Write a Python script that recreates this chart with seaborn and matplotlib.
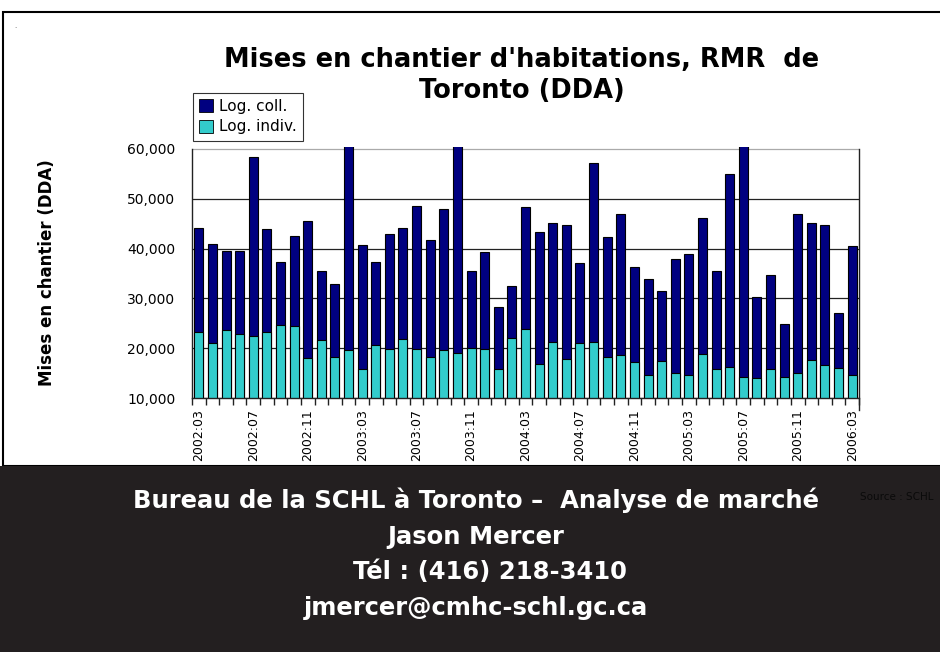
import matplotlib.pyplot as plt
from matplotlib.patches import Rectangle
import seaborn as sns
import pandas as pd

# monthly data, 2002:03 -> 2006:03
years_months = [(2002 + (m + 2) // 12, (m + 2) % 12 + 1) for m in range(49)]
months = ["%d:%02d" % ym for ym in years_months]

log_indiv = [23300, 21100, 23700, 22900, 22500, 23200, 24700, 24500, 18000, 21700,
             18300, 19600, 15800, 20700, 19800, 21900, 19800, 18300, 19600, 19100,
             20000, 19800, 15900, 22100, 23800, 16900, 21200, 17900, 21000, 21200,
             18300, 18600, 17300, 14700, 17500, 15000, 14700, 18900, 15800, 16300,
             14300, 14000, 15800, 14200, 15000, 17700, 16600, 16100, 14700]
log_coll = [20800, 19800, 15800, 16600, 35800, 20700, 12600, 18100, 27500, 13900,
            14500, 42400, 24900, 16600, 23100, 22200, 28800, 23500, 28400, 42900,
            15600, 19500, 12400, 10300, 24600, 26400, 23900, 26900, 16100, 35900,
            24000, 28300, 19100, 19100, 14000, 22900, 24300, 27300, 19700, 38700,
            47700, 16300, 18800, 10700, 31900, 27400, 28100, 11000, 25900]
yticks = [10000, 20000, 30000, 40000, 50000, 60000]

df = pd.DataFrame({"mois": months, "indiv": log_indiv, "coll": log_coll})
df["total"] = df["indiv"] + df["coll"]

navy = "#000080"
turq = "#33cccc"
band = "#231f20"

sns.set_theme(style="white")
plt.rcParams["font.family"] = ["DejaVu Sans"]
plt.rcParams.update({"text.color": "black", "axes.labelcolor": "black",
                     "xtick.color": "black", "ytick.color": "black"})

fig = plt.figure(figsize=(9.4, 6.52), dpi=100)
ax = fig.add_axes([192 / 940, 1 - 398 / 652, 667 / 940, (398 - 146.5) / 652])

sns.barplot(data=df, x="mois", y="total", color=navy, width=0.66,
            edgecolor="black", linewidth=0.8, saturation=1, ax=ax)
sns.barplot(data=df, x="mois", y="indiv", color=turq, width=0.66,
            edgecolor="black", linewidth=0.8, saturation=1, ax=ax)

ax.set_ylim(10000, 60500)
ax.set_xlim(-0.5, len(months) - 0.5)
ax.set_yticks(yticks)
ax.set_yticklabels(["{:,}".format(v) for v in yticks], fontsize=10)
for v in yticks:
    ax.axhline(v, color="#aaaaaa" if v == 60000 else "#222222", lw=0.9, zorder=0)

ax.set_xticks(range(0, len(months), 4))
ax.set_xticklabels(months[::4], rotation=90, fontsize=9)
ax.set_xticks([i - 0.5 for i in range(len(months) + 1)], minor=True)
ax.tick_params(axis="x", which="major", length=0, pad=8)
ax.tick_params(axis="x", which="minor", length=5, width=1, color="#222222", bottom=True)
ax.tick_params(axis="y", length=0, pad=12)
ax.set_xlabel("")
ax.set_ylabel("Mises en chantier (DDA)", fontsize=12, fontweight="bold", labelpad=51)

ax.spines["top"].set_visible(False)
for s in ["left", "right", "bottom"]:
    ax.spines[s].set_color("#222222")
    ax.spines[s].set_linewidth(1)
ax.spines["left"].set_bounds(10000, 60000)
ax.spines["right"].set_bounds(7500, 60000)

handles = [Rectangle((0, 0), 1, 1, facecolor=navy, edgecolor="black", lw=0.6),
           Rectangle((0, 0), 1, 1, facecolor=turq, edgecolor="black", lw=0.6)]
leg = fig.legend(handles, ["Log. coll.", "Log. indiv."], loc="upper left",
                 bbox_to_anchor=(193 / 940, 1 - 93 / 652), fontsize=11,
                 frameon=True, fancybox=False, edgecolor="black",
                 handlelength=0.9, handleheight=0.9, handletextpad=0.4,
                 borderpad=0.4, labelspacing=0.35, borderaxespad=0)
leg.get_frame().set_linewidth(0.8)

fig.text(522 / 940, 1 - 60 / 652, "Mises en chantier d'habitations, RMR  de",
         ha="center", va="center", fontsize=18.5, fontweight="bold")
fig.text(522 / 940, 1 - 91 / 652, "Toronto (DDA)",
         ha="center", va="center", fontsize=18.5, fontweight="bold")
fig.text(14 / 940, 1 - 28 / 652, ".", fontsize=5, color="#555555")

# frame and dark footer band
fig.patches.append(Rectangle((3 / 940, 1 - 466 / 652), 1, 454 / 652,
                             transform=fig.transFigure, fill=False,
                             edgecolor="black", lw=1.5, zorder=0))
fig.patches.append(Rectangle((0, 0), 1, 1 - 466 / 652, transform=fig.transFigure,
                             facecolor=band, edgecolor="none", zorder=0))

fig.text(934 / 940, 1 - 497 / 652, "Source : SCHL", ha="right", va="center",
         fontsize=7.5, color="#0a0a0a")
footer = [("Bureau de la SCHL à Toronto –  Analyse de marché", 476, 500),
          ("Jason Mercer", 476, 537),
          ("Tél : (416) 218-3410", 490, 572),
          ("jmercer@cmhc-schl.gc.ca", 476, 608)]
for txt, x, y in footer:
    fig.text(x / 940, 1 - y / 652, txt, ha="center", va="center",
             fontsize=17.5, fontweight="bold", color="white")

fig.savefig("out.png", dpi=100)
